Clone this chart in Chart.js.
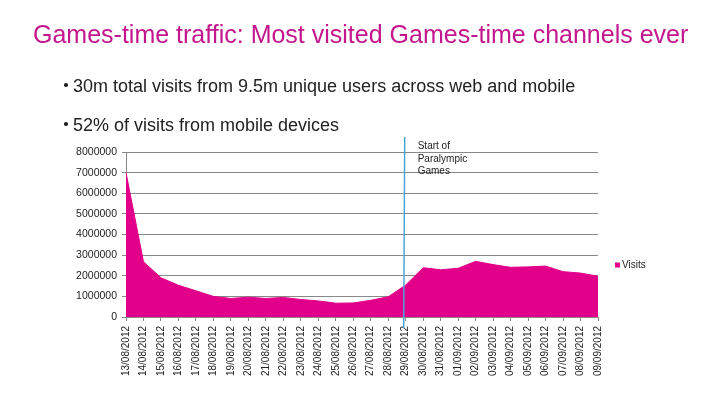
<!DOCTYPE html>
<html>
<head>
<meta charset="utf-8">
<script src="https://cdn.jsdelivr.net/npm/chart.js@4/dist/chart.umd.min.js"></script>
<style>
  html, body { margin: 0; padding: 0; background: #fff; }
  body { width: 728px; height: 410px; position: relative; overflow: hidden; font-family: "Liberation Sans", Arial, sans-serif; }
  #chartBox { position: absolute; left: 0; top: 0; width: 728px; height: 410px; }
  .title { position: absolute; left: 33px; top: 22px; font-size: 25px; line-height: 1; color: #c4168d; white-space: nowrap; }
  .bullet { position: absolute; left: 73px; font-size: 18px; line-height: 1; color: #222; white-space: nowrap; }
  .bullet span { position: absolute; left: -9px; top: 6px; width: 3.6px; height: 3.6px; border-radius: 50%; background: #222; }
</style>
</head>
<body>
<div id="chartBox"><canvas id="visitsChart"></canvas></div>
<div class="title">Games-time traffic: Most visited Games-time channels ever</div>
<div class="bullet" style="top:77px"><span></span>30m total visits from 9.5m unique users across web and mobile</div>
<div class="bullet" style="top:116px"><span></span>52% of visits from mobile devices</div>

<script>
// dates shown on the x axis
const dates = ['13/08/2012', '14/08/2012', '15/08/2012', '16/08/2012', '17/08/2012', '18/08/2012', '19/08/2012',
    '20/08/2012', '21/08/2012', '22/08/2012', '23/08/2012', '24/08/2012', '25/08/2012', '26/08/2012',
    '27/08/2012', '28/08/2012', '29/08/2012', '30/08/2012', '31/08/2012', '01/09/2012', '02/09/2012',
    '03/09/2012', '04/09/2012', '05/09/2012', '06/09/2012', '07/09/2012', '08/09/2012', '09/09/2012'];

// daily visits
const visits = [7000000, 2680000, 1900000, 1540000, 1270000, 1000000, 900000,
    960000, 900000, 950000, 850000, 780000, 670000, 680000,
    810000, 980000, 1550000, 2390000, 2290000, 2360000, 2700000,
    2540000, 2410000, 2430000, 2470000, 2200000, 2130000, 1980000];

const yTicks = [0, 1000000, 2000000, 3000000, 4000000, 5000000, 6000000, 7000000, 8000000];
const markerDate = '29/08/2012';
const markerText = ['Start of', 'Paralympic', 'Games'];
const seriesName = 'Visits';

const fillColor = '#e2008a';

// draws the "Start of Paralympic Games" line and the legend
const extrasPlugin = {
    id: 'extras',
    afterDraw(chart) {
        const ctx = chart.ctx;
        const area = chart.chartArea;
        const x = chart.scales.x.getPixelForValue(dates.indexOf(markerDate)) - 1;

        ctx.save();
        ctx.strokeStyle = '#4ba6d8';
        ctx.lineWidth = 1.5;
        ctx.beginPath();
        ctx.moveTo(x, area.top - 15);
        ctx.lineTo(x - 1, area.bottom + 11);
        ctx.stroke();

        ctx.fillStyle = '#222';
        ctx.font = '10px "Liberation Sans", Arial, sans-serif';
        ctx.textBaseline = 'alphabetic';
        markerText.forEach(function(line, i) {
            ctx.fillText(line, x + 13, area.top - 3 + i * 12.5);
        });

        // legend
        ctx.fillStyle = fillColor;
        ctx.fillRect(615, 262.5, 5, 5);
        ctx.fillStyle = '#222';
        ctx.textBaseline = 'middle';
        ctx.fillText(seriesName, 622, 265.5);
        ctx.restore();
    }
};

const ctx = document.getElementById('visitsChart').getContext('2d');
const visitsChart = new Chart(ctx, {
    type: 'line',
    data: {
        labels: dates,
        datasets: [{
            label: seriesName,
            data: visits,
            backgroundColor: fillColor,
            borderColor: fillColor,
            borderWidth: 1,
            fill: 'origin',
            tension: 0,
            pointRadius: 0
        }]
    },
    options: {
        responsive: true,
        maintainAspectRatio: false,
        animation: false,
        layout: {
            padding: { top: 152, right: 130, left: 0, bottom: 0 }
        },
        scales: {
            x: {
                afterFit: function(scale) { scale.height = 93; },
                grid: { drawOnChartArea: false, drawTicks: true, tickLength: 4, color: '#888' },
                border: { color: '#888' },
                ticks: {
                    autoSkip: false,
                    minRotation: 90,
                    maxRotation: 90,
                    padding: 5,
                    color: '#222',
                    font: { family: '"Liberation Sans", Arial, sans-serif', size: 10 }
                }
            },
            y: {
                min: 0,
                max: 8000000,
                afterFit: function(scale) { scale.width = 126; },
                afterBuildTicks: function(scale) { scale.ticks = yTicks.map(v => ({ value: v })); },
                grid: { color: '#888', tickLength: 4 },
                border: { color: '#888' },
                ticks: {
                    padding: 5,
                    color: '#222',
                    font: { family: '"Liberation Sans", Arial, sans-serif', size: 10.5 },
                    callback: function(v) { return String(v); }
                }
            }
        },
        plugins: {
            legend: { display: false },
            tooltip: { enabled: false }
        }
    },
    plugins: [extrasPlugin]
});
</script>
</body>
</html>
